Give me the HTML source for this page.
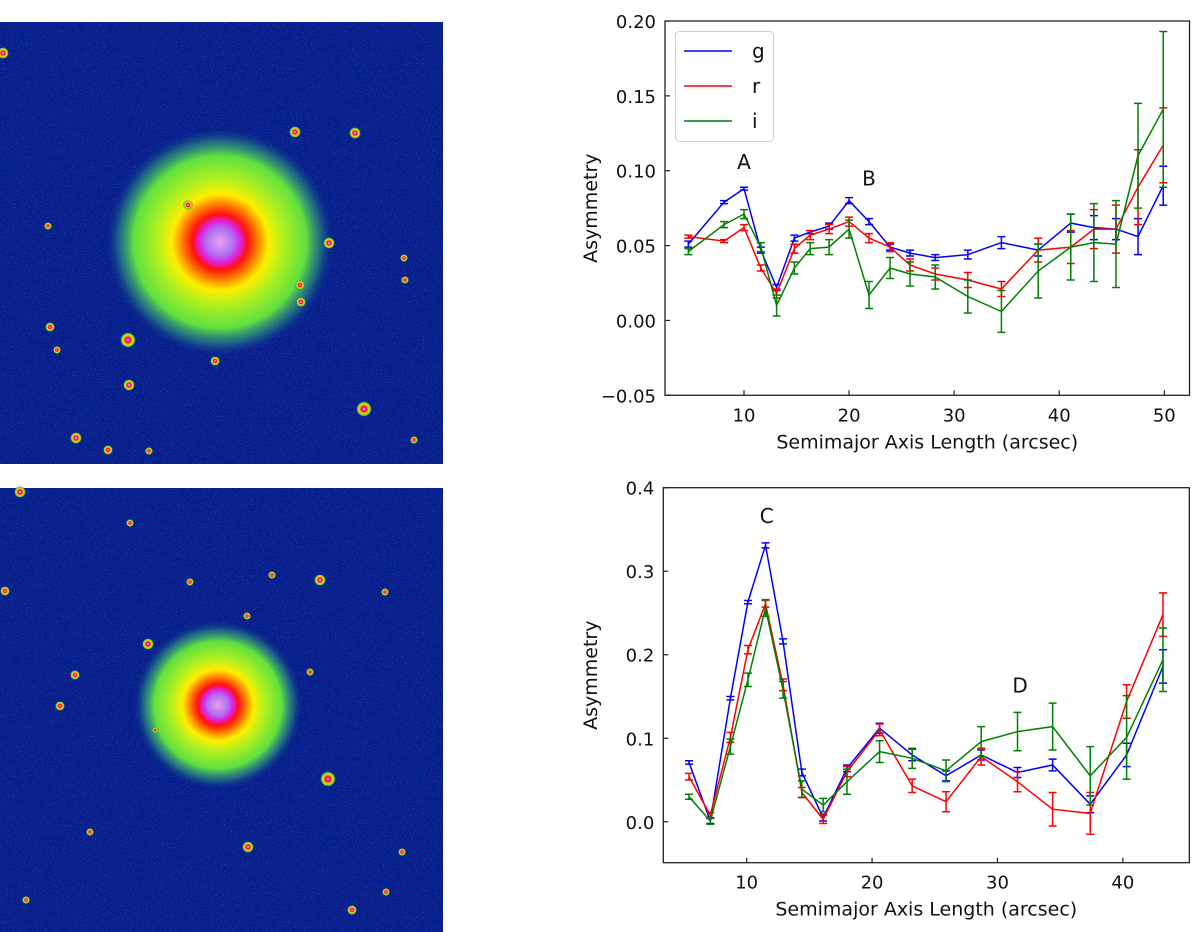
<!DOCTYPE html>
<html><head><meta charset="utf-8"><style>
body{margin:0;background:#fff;}
svg{display:block;font-family:"DejaVu Sans","Liberation Sans",sans-serif;}
</style></head><body>
<svg id="fig" width="1200" height="932" viewBox="0 0 1200 932">
<defs>
<radialGradient id="gal1" cx="50%" cy="50%" r="50%">
<stop offset="0" stop-color="#e8a0f0"/><stop offset="0.12" stop-color="#b070f0"/><stop offset="0.18" stop-color="#e020e0"/>
<stop offset="0.24" stop-color="#ff1010"/><stop offset="0.33" stop-color="#ff8000"/><stop offset="0.42" stop-color="#ffee00"/>
<stop offset="0.55" stop-color="#b0f020"/><stop offset="0.75" stop-color="#60e040"/><stop offset="0.88" stop-color="#30a080" stop-opacity="0.55"/>
<stop offset="1" stop-color="#0a2590" stop-opacity="0"/></radialGradient>
<radialGradient id="star" cx="50%" cy="50%" r="50%">
<stop offset="0" stop-color="#ffffff"/><stop offset="0.2" stop-color="#e020e0"/><stop offset="0.35" stop-color="#ff1010"/>
<stop offset="0.55" stop-color="#ffcc00"/><stop offset="0.8" stop-color="#60e040"/><stop offset="1" stop-color="#0a2590" stop-opacity="0"/></radialGradient>
<filter id="noise" x="0" y="0" width="1" height="1"><feTurbulence type="fractalNoise" baseFrequency="0.9" numOctaves="1" seed="3"/><feColorMatrix values="0 0 0 0 0.1  0 0 0 0 0.7  0 0 0 0 0.6  0 0 0 3 -1.8"/></filter>
</defs>
<g>
<rect x="0" y="22" width="443" height="442" fill="#081e8c"/>
<rect x="0" y="22" width="443" height="442" fill="#fff" filter="url(#noise)" opacity="0.6"/>
<circle cx="220" cy="242" r="115" fill="url(#gal1)"/>
</g>
<g>
<rect x="0" y="488" width="443" height="444" fill="#081e8c"/>
<rect x="0" y="488" width="443" height="444" fill="#fff" filter="url(#noise)" opacity="0.6"/>
<circle cx="218" cy="705" r="85" fill="url(#gal1)"/>
</g>
<g id="stars"></g>
<g id="charts"></g>
</svg>
<script>
// ---- Top chart data ----
const topX = [4.7,8.1,10.0,11.6,13.1,14.8,16.3,18.1,20.0,21.9,23.9,25.8,28.2,31.3,34.5,38.0,41.1,43.3,45.4,47.5,49.9];
const topG = [0.051,0.079,0.088,0.047,0.022,0.055,0.059,0.063,0.080,0.066,0.049,0.045,0.042,0.044,0.052,0.047,0.065,0.062,0.061,0.056,0.090];
const topGErr = [0.002,0.001,0.001,0.002,0.002,0.002,0.001,0.002,0.002,0.002,0.002,0.002,0.002,0.003,0.004,0.004,0.006,0.008,0.007,0.012,0.013];
const topR = [0.056,0.053,0.062,0.035,0.018,0.048,0.057,0.061,0.066,0.055,0.049,0.037,0.031,0.027,0.021,0.047,0.049,0.061,0.061,0.089,0.117];
const topRErr = [0.001,0.001,0.002,0.002,0.003,0.003,0.003,0.003,0.003,0.003,0.003,0.004,0.004,0.005,0.005,0.008,0.011,0.013,0.016,0.025,0.025];
const topI = [0.046,0.064,0.071,0.049,0.010,0.035,0.048,0.049,0.061,0.017,0.035,0.031,0.029,0.016,0.006,0.033,0.049,0.052,0.051,0.110,0.141];
const topIErr = [0.002,0.002,0.003,0.003,0.007,0.004,0.004,0.005,0.006,0.009,0.007,0.008,0.008,0.011,0.014,0.018,0.022,0.026,0.029,0.035,0.052];
const topYTicks = [-0.05,0.00,0.05,0.10,0.15,0.20];
const topYLabels = ["\u22120.05","0.00","0.05","0.10","0.15","0.20"];
const topXTicks = [10,20,30,40,50];
// ---- Bottom chart data ----
const botX = [5.4,7.1,8.7,10.1,11.5,12.9,14.4,16.1,18.0,20.6,23.2,25.9,28.7,31.6,34.4,37.4,40.3,43.2];
const botG = [0.071,0.001,0.148,0.263,0.331,0.216,0.059,0.005,0.064,0.112,0.080,0.055,0.080,0.059,0.068,0.021,0.080,0.186];
const botGErr = [0.002,0.003,0.002,0.002,0.003,0.003,0.004,0.004,0.004,0.006,0.007,0.006,0.006,0.006,0.007,0.010,0.014,0.02];
const botR = [0.054,0.008,0.101,0.206,0.261,0.164,0.035,0.003,0.060,0.110,0.043,0.024,0.078,0.048,0.015,0.010,0.144,0.248];
const botRErr = [0.004,0.003,0.006,0.005,0.004,0.007,0.006,0.005,0.006,0.007,0.008,0.012,0.01,0.012,0.02,0.025,0.02,0.026];
const botI = [0.030,0.001,0.090,0.170,0.256,0.158,0.039,0.020,0.048,0.084,0.076,0.061,0.096,0.108,0.114,0.055,0.101,0.194];
const botIErr = [0.003,0.004,0.009,0.008,0.01,0.01,0.01,0.008,0.015,0.013,0.012,0.013,0.018,0.023,0.028,0.035,0.05,0.038];
const botYTicks = [0.0,0.1,0.2,0.3,0.4];
const botYLabels = ["0.0","0.1","0.2","0.3","0.4"];
const botXTicks = [10,20,30,40];

const NS="http://www.w3.org/2000/svg";
function mk(tag,attrs,parent){const e=document.createElementNS(NS,tag);for(const k in attrs)e.setAttribute(k,attrs[k]);parent.appendChild(e);return e;}
const root=document.getElementById('charts');

function chart(name,box,xd,yd,xt,yt,ytl,xs,series,legend,notes){
  const g=mk('g',{},root);
  
  
  const sx=v=>box.l+(v-xd[0])/(xd[1]-xd[0])*(box.r-box.l);
  const sy=v=>box.b-(v-yd[0])/(yd[1]-yd[0])*(box.b-box.t);
  const cid=name+'-clip';
  const cp=mk('clipPath',{id:cid},g);mk('rect',{x:box.l,y:box.t,width:box.r-box.l,height:box.b-box.t},cp);
  const data=mk('g',{'clip-path':'url(#'+cid+')'},g);
  series.forEach(s=>{
    const sg=mk('g',{},data);
    
    
    const pts=xs.map((x,i)=>sx(x).toFixed(1)+','+sy(s.v[i]).toFixed(1)).join(' ');
    const pl=mk('polyline',{points:pts,fill:'none',stroke:s.c,'stroke-width':1.5},sg);
    
    
    xs.forEach((x,i)=>{
      const X=sx(x),y1=sy(s.v[i]-s.e[i]),y2=sy(s.v[i]+s.e[i]);
      const eb=mk('path',{d:`M${X},${y1}V${y2}M${X-4},${y1}H${X+4}M${X-4},${y2}H${X+4}`,stroke:s.c,'stroke-width':1.5,fill:'none'},sg);
      
      
    });
  });
  const fr=mk('rect',{x:box.l,y:box.t,width:box.r-box.l,height:box.b-box.t,fill:'none',stroke:'#222','stroke-width':1.3},g);
  
  
  yt.forEach((v,i)=>{
    const Y=sy(v);
    mk('line',{x1:box.l,x2:box.l+5,y1:Y,y2:Y,stroke:'#222','stroke-width':1.2},g);
    const t=mk('text',{x:box.l-9,y:Y+7,'text-anchor':'end','font-size':18,fill:'#111'},g);
    t.textContent=ytl[i];
    
    
  });
  xt.forEach(v=>{
    const X=sx(v);
    mk('line',{x1:X,x2:X,y1:box.b,y2:box.b-5,stroke:'#222','stroke-width':1.2},g);
    const t=mk('text',{x:X,y:box.b+26,'text-anchor':'middle','font-size':18,fill:'#111'},g);
    t.textContent=v;
    
    
  });
  const xl=mk('text',{x:(box.l+box.r)/2,y:box.b+53,'text-anchor':'middle','font-size':19,fill:'#111'},g);
  xl.textContent='Semimajor Axis Length (arcsec)';
  
  
  const yc=(box.t+box.b)/2;
  const yl=mk('text',{x:597,y:yc,'text-anchor':'middle','font-size':19,fill:'#111',transform:`rotate(-90 597 ${yc})`},g);
  yl.textContent='Asymmetry';
  
  
  notes.forEach(n=>{
    const t=mk('text',{x:sx(n.x),y:sy(n.y),'text-anchor':'middle','font-size':20,fill:'#111'},g);
    t.textContent=n.t;
    
    
  });
  if(legend){
    const lg=mk('g',{},g);
    
    
    mk('rect',{x:675.5,y:31.5,width:98,height:110,rx:4,fill:'#fff',stroke:'#ccc'},lg);
    series.forEach((s,i)=>{
      const Y=51+i*35;
      const le=mk('g',{},lg);
      
      
      mk('line',{x1:684,x2:732,y1:Y,y2:Y,stroke:s.c,'stroke-width':1.5},le);
      const t=mk('text',{x:752,y:Y+7,'font-size':20,fill:'#111'},le);
      t.textContent=s.label;
    });
  }
}
chart('top-asymmetry-chart',{l:665,r:1189.5,t:21,b:395.3},[2.48,52.4],[-0.05,0.20],topXTicks,topYTicks,topYLabels,topX,
 [{label:'g',c:'#0000ff',v:topG,e:topGErr},{label:'r',c:'#ff0000',v:topR,e:topRErr},{label:'i',c:'#008000',v:topI,e:topIErr}],true,
 [{t:'A',x:10,y:0.101},{t:'B',x:21.9,y:0.090}]);
chart('bottom-asymmetry-chart',{l:663.3,r:1189.3,t:487.7,b:862.7},[3.35,45.3],[-0.049,0.4],botXTicks,botYTicks,botYLabels,botX,
 [{label:'g',c:'#0000ff',v:botG,e:botGErr},{label:'r',c:'#ff0000',v:botR,e:botRErr},{label:'i',c:'#008000',v:botI,e:botIErr}],false,
 [{t:'C',x:11.6,y:0.358},{t:'D',x:31.8,y:0.155}]);

const starList=[[3,53,6],[295,132,6],[355,133,6],[188,205,5],[329,243,6],[48,226,4],[50,327,5],[57,350,4],[128,340,8],[129,385,6],[364,409,8],[215,361,5],[300,285,5],[301,302,5],[76,438,6],[108,450,5],[149,451,4],[404,258,4],[405,280,4],[414,440,4],
[20,492,6],[130,523,4],[320,580,6],[148,644,6],[75,675,5],[60,706,5],[247,616,4],[328,779,8],[248,847,6],[90,832,4],[5,591,5],[385,592,4],[272,575,4],[190,582,4],[402,852,4],[352,910,5],[386,892,4],[155,730,3],[310,672,4],[26,900,4]];
const sg=document.getElementById('stars');
starList.forEach(s=>{const c=mk('circle',{cx:s[0],cy:s[1],r:s[2],fill:'url(#star)'},sg);});
</script>
</body></html>
